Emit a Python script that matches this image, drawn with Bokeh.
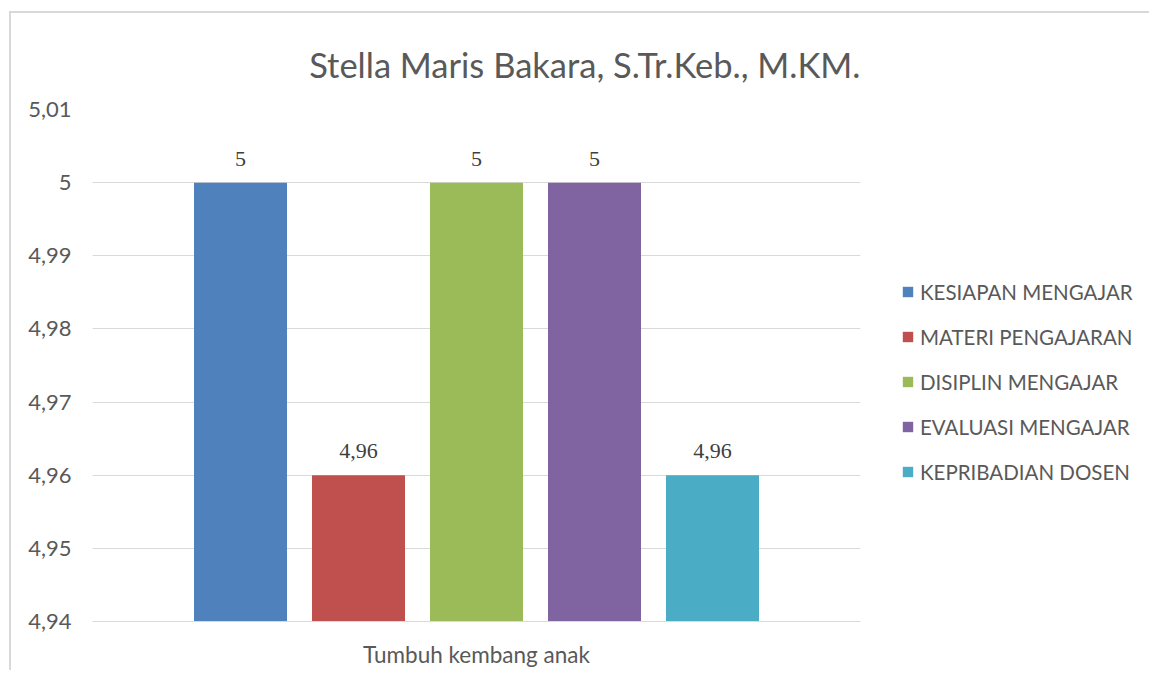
from bokeh.plotting import figure
from bokeh.models import (ColumnDataSource, FactorRange, FixedTicker, CustomJSTickFormatter,
                          Legend, LegendItem, LabelSet, Title)
from bokeh.transform import dodge
from bokeh.embed import file_html
from bokeh.resources import INLINE

title_text = "Stella Maris Bakara, S.Tr.Keb., M.KM."
category = ["Tumbuh kembang anak"]
series = ["KESIAPAN MENGAJAR", "MATERI PENGAJARAN", "DISIPLIN MENGAJAR",
          "EVALUASI MENGAJAR", "KEPRIBADIAN DOSEN"]
values = [5.0, 4.96, 5.0, 5.0, 4.96]
value_labels = ["5", "4,96", "5", "5", "4,96"]
colors = ["#4F81BD", "#C0504D", "#9BBB59", "#8064A2", "#4BACC6"]
y_ticks = [4.94, 4.95, 4.96, 4.97, 4.98, 4.99, 5.00, 5.01]

FONT = "Lato"
TXT = "#595959"
GRID = "#D9D9D9"

# figure origin is shifted by the CSS margin+border (11, 13)
p = figure(width=1136, height=662, x_range=FactorRange(*category), y_range=(4.94, 5.01),
           output_backend="svg", toolbar_location=None,
           min_border_left=81, min_border_right=287, min_border_top=96, min_border_bottom=41)
p.frame_width = 768
p.frame_height = 512
p.outline_line_color = None
p.styles = {"margin-left": "9px", "margin-top": "11px",
            "border-left": "2px solid #D9D9D9", "border-top": "2px solid #D9D9D9"}

p.title = Title(text=title_text, align="right", offset=0, vertical_align="top",
                standoff=45, text_font=FONT, text_font_size="34.5px",
                text_font_style="normal", text_color=TXT)

step = 118 / 768
bar_w = 93 / 768
renderers = []
for i, (name, val, col, lab) in enumerate(zip(series, values, colors, value_labels)):
    src = ColumnDataSource(dict(cat=category, val=[val], lab=[lab]))
    off = (i - 2) * step
    r = p.vbar(x=dodge("cat", off, range=p.x_range), top="val", bottom=4.94, width=bar_w,
               source=src, fill_color=col, line_color=None)
    renderers.append((name, r))
    ls = LabelSet(x=dodge("cat", off, range=p.x_range), y="val", text="lab", source=src,
                  text_align="center", text_baseline="bottom", y_offset=17,
                  text_font=FONT, text_font_size="22px", text_color="#404040")
    p.add_layout(ls)

legend = Legend(items=[LegendItem(label=n, renderers=[r]) for n, r in renderers],
                location=(41, 137), orientation="vertical",
                glyph_width=13, glyph_height=13, label_height=25, spacing=20,
                label_standoff=6, padding=0, margin=0, border_line_color=None,
                background_fill_alpha=0, label_text_font=FONT, label_text_font_size="20.5px",
                label_text_color=TXT)
p.add_layout(legend, "right")

p.yaxis.ticker = FixedTicker(ticks=y_ticks)
p.yaxis.formatter = CustomJSTickFormatter(code="return (Math.round(tick*100)/100).toString().replace('.', ',');")
p.yaxis.axis_line_color = None
p.yaxis.major_tick_line_color = None
p.yaxis.minor_tick_line_color = None
p.yaxis.major_tick_out = 0
p.yaxis.major_tick_in = 0
p.yaxis.major_label_standoff = 21
p.yaxis.major_label_text_font = FONT
p.yaxis.major_label_text_font_size = "22px"
p.yaxis.major_label_text_color = TXT

p.xaxis.axis_line_color = GRID
p.xaxis.axis_line_width = 1
p.xaxis.major_tick_line_color = None
p.xaxis.major_tick_out = 0
p.xaxis.major_tick_in = 0
p.xaxis.major_label_standoff = 19
p.xaxis.major_label_text_font = FONT
p.xaxis.major_label_text_font_size = "22.5px"
p.xaxis.major_label_text_color = TXT

p.xgrid.grid_line_color = None
p.ygrid.grid_line_color = GRID
p.ygrid.grid_line_width = 1

open("out.html", "w").write(file_html(p, INLINE))
